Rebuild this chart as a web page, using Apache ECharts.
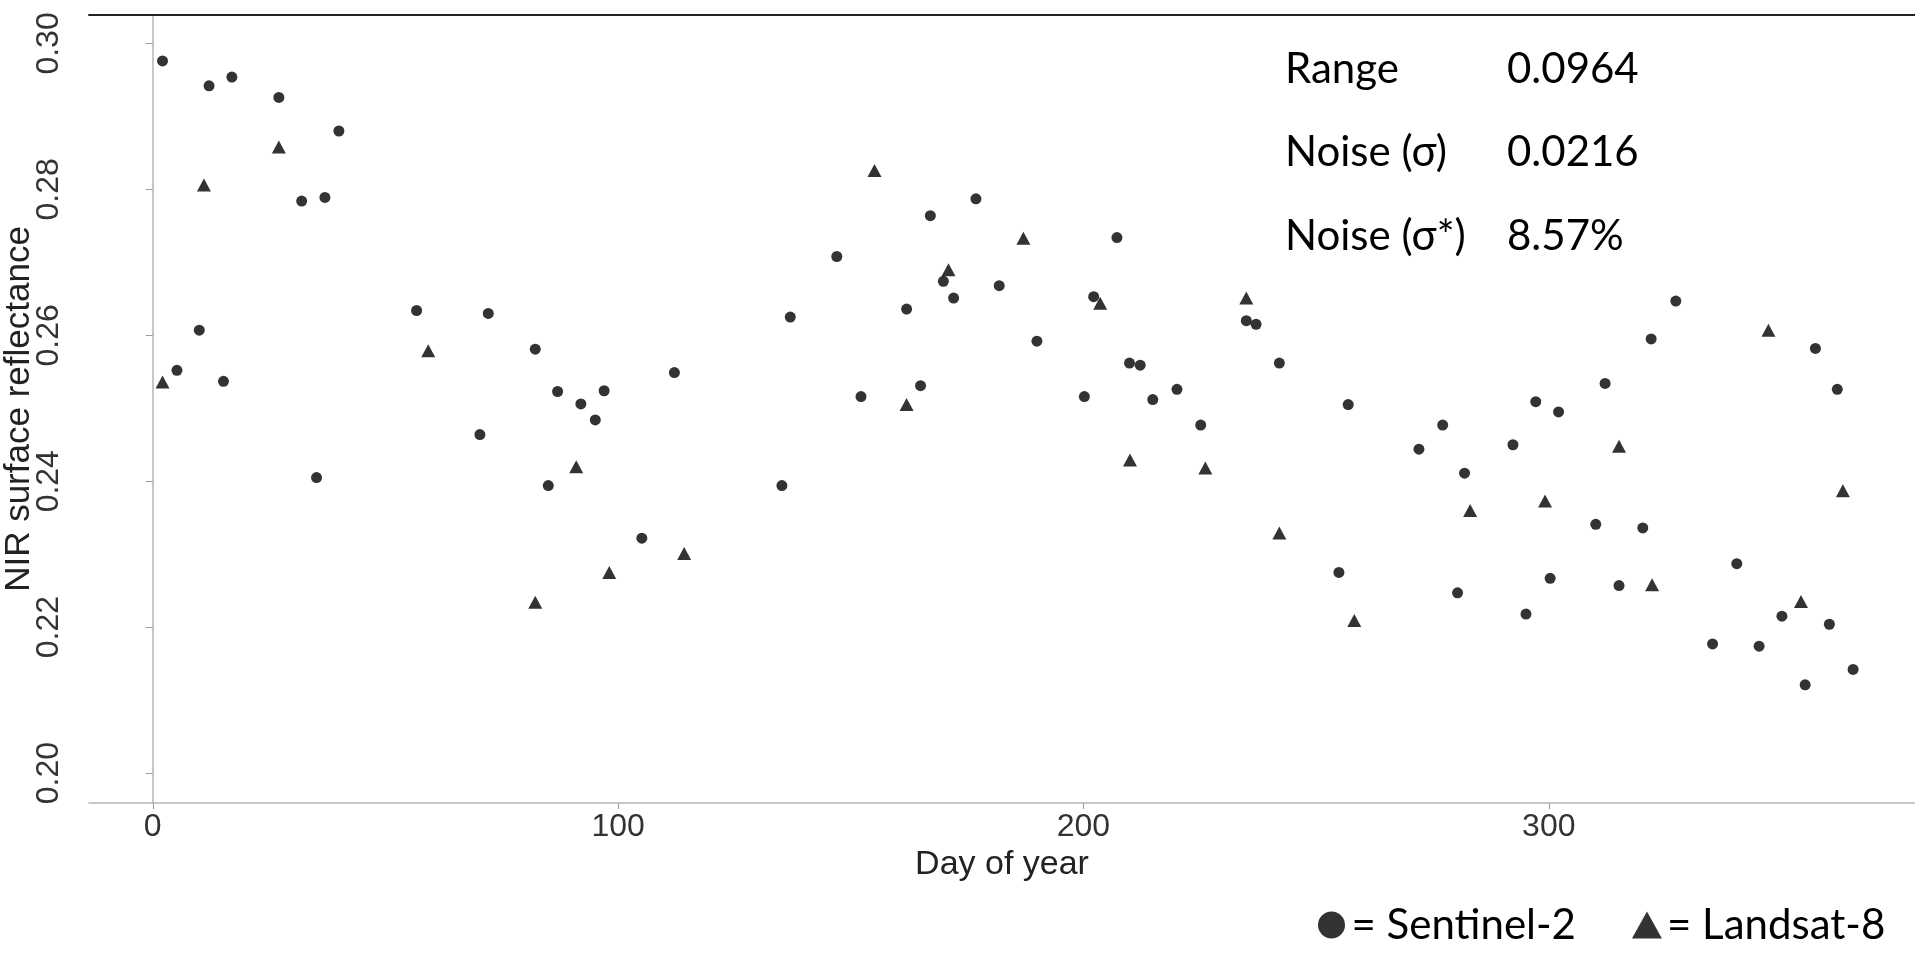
<!DOCTYPE html>
<html>
<head>
<meta charset="utf-8">
<script src="https://cdn.jsdelivr.net/npm/echarts@6/dist/echarts.min.js"></script>
<style>
  html, body { margin: 0; padding: 0; background: #ffffff; }
  #chart { width: 1915px; height: 954px; }
</style>
</head>
<body>
<div id="chart"></div>
<script>
// ---- data ----
const sentinelDay = [2.1, 12.1, 17.0, 27.1, 40.0, 32.0, 37.0, 5.2, 10.0, 15.2, 56.7, 72.1, 35.2, 70.3, 82.2, 85.0, 87.0, 92.0, 95.1, 97.0,
  105.1, 112.1, 135.2, 137.0, 147.0, 152.2, 162.0, 165.0, 167.1, 169.9, 172.1, 176.9, 181.9, 190.0, 200.2, 202.2, 207.2, 209.9, 212.2, 214.9,
  220.1, 225.2, 235.0, 237.1, 242.1, 254.9, 256.9, 272.1, 277.2, 280.4, 281.9, 292.3, 295.1, 297.2, 300.3, 302.1, 310.1, 312.1, 315.1, 320.2,
  322.0, 327.3, 335.2, 340.4, 345.2, 350.1, 355.1, 357.3, 360.3, 362.0, 365.4];
const sentinelNir = [0.2976, 0.2942, 0.2954, 0.2926, 0.2880, 0.2784, 0.2789, 0.2552, 0.2607, 0.2537, 0.2634, 0.2630, 0.2405, 0.2464, 0.2581, 0.2394, 0.2523, 0.2506, 0.2484, 0.2524,
  0.2322, 0.2549, 0.2394, 0.2625, 0.2708, 0.2516, 0.2636, 0.2531, 0.2764, 0.2674, 0.2651, 0.2787, 0.2668, 0.2592, 0.2516, 0.2653, 0.2734, 0.2562, 0.2559, 0.2512,
  0.2526, 0.2477, 0.2620, 0.2615, 0.2562, 0.2275, 0.2505, 0.2444, 0.2477, 0.2247, 0.2411, 0.2450, 0.2218, 0.2509, 0.2267, 0.2495, 0.2341, 0.2534, 0.2257, 0.2336,
  0.2595, 0.2647, 0.2177, 0.2287, 0.2174, 0.2215, 0.2121, 0.2582, 0.2204, 0.2526, 0.2142];

const landsatDay = [2.1, 11.0, 27.1, 59.2, 82.2, 91.0, 98.1, 114.2, 155.1, 162.0, 171.0, 187.1, 203.6, 210.0, 226.2, 235.0, 242.1, 258.2,
  283.1, 299.2, 315.1, 322.2, 347.2, 354.2, 363.2];
const landsatNir = [0.2536, 0.2806, 0.2858, 0.2579, 0.2234, 0.2420, 0.2275, 0.2301, 0.2826, 0.2505, 0.2690, 0.2733, 0.2644, 0.2429, 0.2418, 0.2651, 0.2329, 0.2209,
  0.2360, 0.2373, 0.2448, 0.2258, 0.2607, 0.2235, 0.2387];

const xTicks = [0, 100, 200, 300];
const yTicks = [0.20, 0.22, 0.24, 0.26, 0.28, 0.30];
const statLabels = ['Range', 'Noise (σ)', 'Noise (σ*)'];
const statValues = ['0.0964', '0.0216', '8.57%'];
const seriesNames = ['Sentinel-2', 'Landsat-8'];

// ---- chart ----
const chart = echarts.init(document.getElementById('chart'), null, { renderer: 'canvas' });
const axisFont = '"Liberation Sans", Arial, sans-serif';
const noteFont = 'Lato, "Open Sans", sans-serif';
const X_MIN = -13.7, X_MAX = 378.7, Y_MIN = 0.1959, Y_MAX = 0.3039;

function pairs(xs, ys) { return xs.map((x, i) => [x, ys[i]]); }

const statRowsY = [69, 152.5, 236];
const graphics = [];
statLabels.forEach((t, i) => {
  graphics.push({ type: 'text', style: { text: t, x: 1285, y: statRowsY[i], font: '42px ' + noteFont, fill: '#000', verticalAlign: 'middle' } });
  graphics.push({ type: 'text', style: { text: statValues[i], x: 1507, y: statRowsY[i], font: '42px ' + noteFont, fill: '#000', verticalAlign: 'middle' } });
});

chart.setOption({
  animation: false,
  backgroundColor: '#ffffff',
  grid: { left: 89, right: 0, top: 15, bottom: 151, containLabel: false, outerBoundsMode: 'none' },
  legend: {
    data: [{ name: seriesNames[0], icon: 'circle' }, { name: seriesNames[1], icon: 'triangle' }],
    left: 1313, top: 899,
    itemWidth: 30, itemHeight: 27, itemGap: 56,
    formatter: '= {name}',
    textStyle: { fontFamily: noteFont, fontSize: 42, color: '#000' },
    selectedMode: false
  },
  xAxis: [{
    type: 'value', min: X_MIN, max: X_MAX,
    axisLine: { show: true, lineStyle: { color: '#b5b5b5', width: 1.5 } },
    axisTick: { show: true, customValues: xTicks, length: 6, lineStyle: { color: '#999' } },
    axisLabel: { customValues: xTicks, fontFamily: axisFont, fontSize: 32, color: '#333', margin: 8 },
    splitLine: { show: false },
    name: 'Day of year', nameLocation: 'middle', nameGap: 45, nameMoveOverlap: false,
    nameTextStyle: { fontFamily: axisFont, fontSize: 34, color: '#222' }
  }, {
    type: 'value', position: 'top', min: X_MIN, max: X_MAX,
    axisLine: { show: true, lineStyle: { color: '#222', width: 2 } },
    axisTick: { show: false }, axisLabel: { show: false }, splitLine: { show: false }
  }],
  yAxis: {
    type: 'value', min: Y_MIN, max: Y_MAX,
    axisLine: { show: true, lineStyle: { color: '#b5b5b5', width: 1.5 } },
    axisTick: { show: true, customValues: yTicks, length: 7, lineStyle: { color: '#999' } },
    axisLabel: { customValues: yTicks, rotate: 90, formatter: v => v.toFixed(2), fontFamily: axisFont, fontSize: 32, color: '#333', margin: 24 },
    splitLine: { show: false },
    name: 'NIR surface reflectance', nameLocation: 'middle', nameGap: 52, nameRotate: 90, nameMoveOverlap: false,
    nameTextStyle: { fontFamily: axisFont, fontSize: 35, color: '#222' }
  },
  graphic: graphics,
  series: [{
    name: seriesNames[0], type: 'scatter', symbol: 'circle', symbolSize: 11,
    itemStyle: { color: '#000' }, data: pairs(sentinelDay, sentinelNir)
  }, {
    name: seriesNames[1], type: 'scatter', symbol: 'triangle', symbolSize: [14, 13],
    itemStyle: { color: '#000' }, data: pairs(landsatDay, landsatNir)
  }]
});
</script>
</body>
</html>
